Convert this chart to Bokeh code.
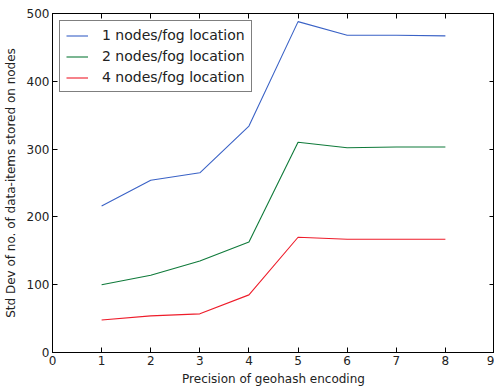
from bokeh.plotting import figure
from bokeh.models import LinearAxis, Range1d, FixedTicker, Legend, LegendItem, CustomJSTickFormatter
from bokeh.embed import file_html
from bokeh.resources import INLINE

precision = [1, 2, 3, 4, 5, 6, 7, 8]
nodes1 = [216, 254, 265, 334, 488, 468, 468, 467]
nodes2 = [100, 114, 135, 163, 310, 302, 303, 303]
nodes4 = [48, 54, 57, 85, 170, 167, 167, 167]
series_labels = ["1 nodes/fog location", "2 nodes/fog location", "4 nodes/fog location"]
colors = ["#3a62c6", "#0f7a3a", "#ee1c2a"]
x_ticks = list(range(0, 10))
y_ticks = [0, 100, 200, 300, 400, 500]

FONT = "DejaVu Sans"

p = figure(width=494, height=388, output_backend="svg", toolbar_location=None,
           x_range=Range1d(0, 9), y_range=Range1d(0, 500),
           min_border_left=50, min_border_right=0, min_border_top=13, min_border_bottom=0)
p.background_fill_color = "white"
p.border_fill_color = "white"
p.outline_line_color = "black"
p.outline_line_width = 1
p.xgrid.visible = False
p.ygrid.visible = False

renderers = []
for ys, c in zip([nodes1, nodes2, nodes4], colors):
    r = p.line(precision, ys, line_color=c, line_width=1.1)
    renderers.append(r)

def style_axis(ax, ticks, show_labels=True):
    ax.ticker = FixedTicker(ticks=ticks)
    ax.major_tick_in = 5
    ax.major_tick_out = 0
    ax.minor_tick_in = 0
    ax.minor_tick_out = 0
    ax.axis_line_color = "black"
    ax.major_tick_line_color = "black"
    ax.major_label_text_font = FONT
    ax.major_label_text_color = "#222222"
    ax.major_label_text_font_size = "12px"
    if show_labels:
        ax.major_label_standoff = 3
    else:
        ax.formatter = CustomJSTickFormatter(code="return ''")
        ax.major_label_standoff = 0

xa = p.xaxis[0]
style_axis(xa, x_ticks)
xa.axis_label = "Precision of geohash encoding"
xa.axis_label_text_font = FONT
xa.axis_label_text_font_size = "12px"
xa.axis_label_text_font_style = "normal"
xa.axis_label_text_color = "#222222"
xa.axis_label_standoff = 4

ya = p.yaxis[0]
style_axis(ya, y_ticks)
ya.axis_label = "Std Dev of no. of data-items stored on nodes"
ya.axis_label_text_font = FONT
ya.axis_label_text_font_size = "12px"
ya.axis_label_text_font_style = "normal"
ya.axis_label_text_color = "#222222"
ya.axis_label_standoff = 6

ra = LinearAxis()
style_axis(ra, y_ticks, show_labels=False)
p.add_layout(ra, "right")
ta = LinearAxis()
style_axis(ta, x_ticks, show_labels=False)
p.add_layout(ta, "above")

legend = Legend(items=[LegendItem(label=l, renderers=[r]) for l, r in zip(series_labels, renderers)],
                location="top_left")
legend.border_line_color = "black"
legend.border_line_width = 1
legend.background_fill_color = "white"
legend.background_fill_alpha = 1
legend.label_text_font = FONT
legend.label_text_font_size = "14px"
legend.label_text_color = "#222222"
legend.glyph_width = 22
legend.glyph_height = 15
legend.label_height = 15
legend.spacing = 5
legend.padding = 6
legend.margin = 7
legend.label_standoff = 14
p.add_layout(legend, "center")

open("out.html", "w").write(file_html(p, INLINE))
